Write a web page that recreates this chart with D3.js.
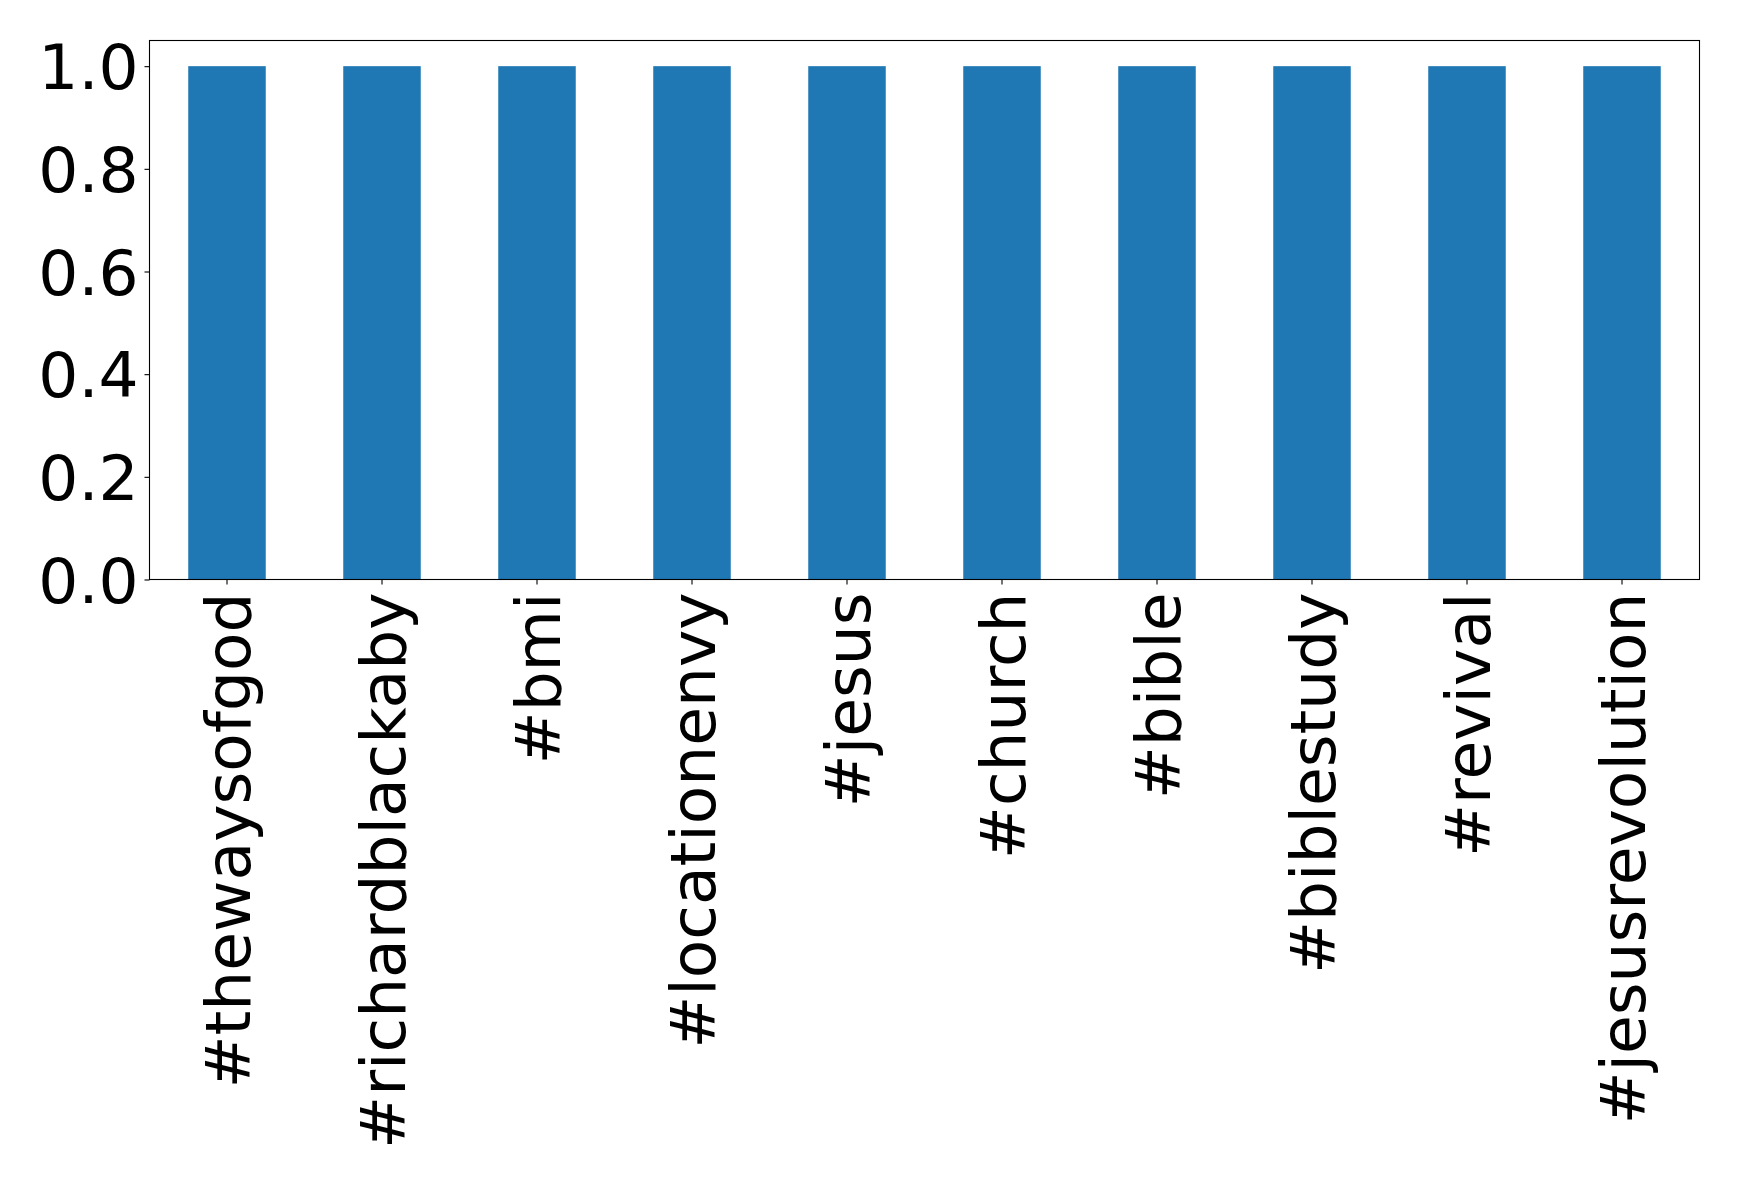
<!DOCTYPE html>
<html>
<head>
<meta charset="utf-8">
<script src="https://cdn.jsdelivr.net/npm/d3@7"></script>
<style>
  html, body { margin: 0; padding: 0; background: #fff; }
  svg { display: block; }
  text { font-family: "DejaVu Sans", sans-serif; fill: #000; }
</style>
</head>
<body>
<script>
const categories = ["#thewaysofgod", "#richardblackaby", "#bmi", "#locationenvy", "#jesus", "#church", "#bible", "#biblestudy", "#revival", "#jesusrevolution"];
const values = [1, 1, 1, 1, 1, 1, 1, 1, 1, 1];
const yTicks = [0.0, 0.2, 0.4, 0.6, 0.8, 1.0];

const W = 1739, H = 1180;
const mLeft = 149.5, mRight = 1699.5, mTop = 40.5, mBottom = 579.5;
const fontPx = 63;

const svg = d3.select("body").append("svg").attr("width", W).attr("height", H);

const x = d3.scaleBand().domain(categories).range([mLeft, mRight]).paddingInner(0.5).paddingOuter(0.25);
const y = d3.scaleLinear().domain([0, 1.05]).range([mBottom, mTop]);

svg.append("g").selectAll("rect").data(categories).join("rect")
  .attr("x", d => x(d))
  .attr("width", x.bandwidth())
  .attr("y", (d, i) => y(values[i]))
  .attr("height", (d, i) => y(0) - y(values[i]))
  .attr("fill", "#1f77b4");

// frame
svg.append("rect").attr("x", mLeft).attr("y", mTop).attr("width", mRight - mLeft).attr("height", mBottom - mTop)
  .attr("fill", "none").attr("stroke", "#000").attr("stroke-width", 1.1);

const yAxis = svg.append("g").attr("transform", `translate(${mLeft},0)`)
  .call(d3.axisLeft(y).tickValues(yTicks).tickFormat(d3.format(".1f")).tickSize(5).tickPadding(6));
yAxis.select(".domain").remove();
yAxis.selectAll("line").attr("stroke", "#000").attr("stroke-width", 1.1);
yAxis.selectAll("text").style("font-size", fontPx + "px").style("font-family", "DejaVu Sans").attr("dy", "0.36em").attr("fill", "#000");

const xAxis = svg.append("g").attr("transform", `translate(0,${mBottom})`)
  .call(d3.axisBottom(x).tickSize(5).tickPadding(0));
xAxis.select(".domain").remove();
xAxis.selectAll("line").attr("stroke", "#000").attr("stroke-width", 1.1);
xAxis.selectAll("text")
  .style("font-size", fontPx + "px").style("font-family", "DejaVu Sans").attr("fill", "#000")
  .attr("text-anchor", "end")
  .attr("transform", "translate(0,13) rotate(-90)")
  .attr("x", 0).attr("y", 0).attr("dy", "0.36em");
</script>
</body>
</html>
